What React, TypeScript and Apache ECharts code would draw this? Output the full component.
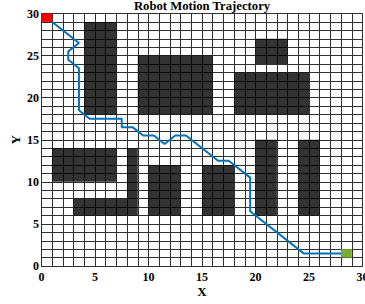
import React, { useEffect, useRef } from "react";
import * as echarts from "echarts";

// Obstacles: [x1, y1, x2, y2] in grid units
const obstacles: number[][] = [
  [4, 18, 7, 29],
  [9, 18, 16, 25],
  [20, 24, 23, 27],
  [18, 18, 25, 23],
  [1, 10, 7, 14],
  [8, 6, 9, 14],
  [3, 6, 8, 8],
  [10, 6, 13, 12],
  [15, 6, 18, 12],
  [20, 6, 22, 15],
  [24, 6, 26, 15],
];
const startCell: number[] = [0, 29, 1, 30];
const goalCell: number[] = [28, 1, 29, 2];

const pathX = [0.5, 3.5, 2.5, 2.5, 3.5, 3.5, 4.5, 7.5, 7.5, 8.5, 9.5, 10.5, 11.5, 12.5, 13.5, 16.5, 17.5, 19.5, 19.5, 24.5, 28.5];
const pathY = [29.5, 26.5, 25.5, 24.5, 23.5, 18.5, 17.5, 17.5, 16.5, 16.5, 15.5, 15.5, 14.5, 15.5, 15.5, 12.5, 12.5, 10.5, 6.5, 1.5, 1.5];

const xTickLabels = ["0", "5", "10", "15", "20", "25", "30"];
const yTickLabels = ["0", "5", "10", "15", "20", "25", "30"];

const FONT = '"Liberation Serif", "Times New Roman", serif';

const rectRender = (color: string) => (params: any, api: any) => {
  const x1 = api.value(0), y1 = api.value(1), x2 = api.value(2), y2 = api.value(3);
  const p1 = api.coord([x1, y2]);
  const p2 = api.coord([x2, y1]);
  return {
    type: "rect",
    shape: { x: p1[0], y: p1[1], width: p2[0] - p1[0], height: p2[1] - p1[1] },
    style: { fill: color },
  };
};

export default function App() {
  const ref = useRef<HTMLDivElement>(null);
  useEffect(() => {
    if (!ref.current) return;
    const chart = echarts.init(ref.current, null, { renderer: "svg" });
    const gridLine = { show: true, lineStyle: { color: "#303030", width: 1 } };
    const axisCommon = {
      type: "value" as const,
      min: 0,
      max: 30,
      interval: 5,
      nameMoveOverlap: false,
      axisLine: { show: true, lineStyle: { color: "#303030", width: 1 } },
      axisTick: { show: false },
      splitLine: gridLine,
      minorTick: { show: false, splitNumber: 5 },
      minorSplitLine: gridLine,
      nameTextStyle: { fontFamily: FONT, fontWeight: "bold" as const, fontSize: 13, color: "#000" },
    };
    chart.setOption({
      animation: false,
      backgroundColor: "#fff",
      grid: { left: 41.5, right: 2.5, top: 13.5, bottom: 38, containLabel: false, outerBoundsMode: "none" },
      graphic: [
        {
          type: "text",
          x: 202,
          y: 5.5,
          style: {
            text: "Robot Motion Trajectory",
            font: `bold 12.7px ${FONT}`,
            fill: "#000",
            align: "center",
            verticalAlign: "middle",
          },
        },
      ],
      xAxis: {
        ...axisCommon,
        name: "X",
        nameLocation: "middle",
        nameGap: 19,
        axisLabel: {
          fontFamily: FONT,
          fontWeight: "bold",
          fontSize: 12,
          color: "#000",
          margin: 5,
          alignMinLabel: "center",
          alignMaxLabel: "center",
          formatter: (v: number) => xTickLabels[Math.round(v / 5)] ?? "",
        },
      },
      yAxis: {
        ...axisCommon,
        name: "Y",
        nameLocation: "middle",
        nameGap: 20,
        nameRotate: 90,
        axisLabel: {
          fontFamily: FONT,
          fontWeight: "bold",
          fontSize: 12,
          color: "#000",
          margin: 2.5,
          verticalAlignMinLabel: "middle",
          verticalAlignMaxLabel: "middle",
          formatter: (v: number) => yTickLabels[Math.round(v / 5)] ?? "",
        },
      },
      series: [
        {
          type: "custom",
          renderItem: rectRender("rgba(0,0,0,0.8)"),
          data: obstacles,
          z: 2,
          silent: true,
        },
        {
          type: "line",
          data: pathX.map((x, i) => [x, pathY[i]]),
          showSymbol: false,
          lineStyle: { color: "#0072BD", width: 2 },
          z: 3,
          silent: true,
        },
        {
          type: "custom",
          renderItem: rectRender("#FF0000"),
          data: [startCell],
          z: 4,
          silent: true,
        },
        {
          type: "custom",
          renderItem: rectRender("#77AC30"),
          data: [goalCell],
          z: 4,
          silent: true,
        },
      ],
    });
    return () => chart.dispose();
  }, []);
  return <div ref={ref} style={{ width: 365, height: 304, position: "absolute", left: 0, top: 0 }} />;
}
